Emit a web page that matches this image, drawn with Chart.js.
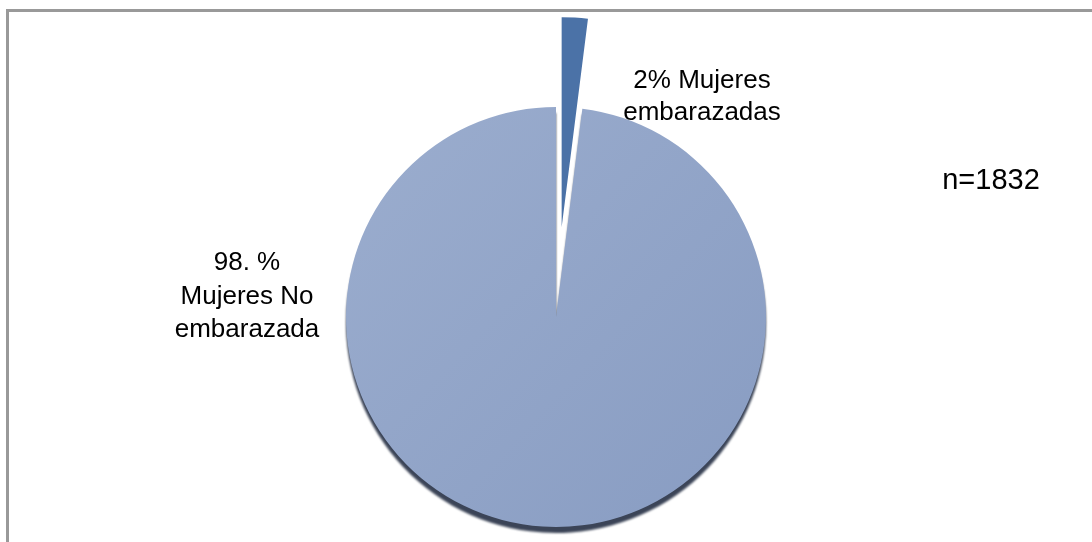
<!DOCTYPE html>
<html>
<head>
<meta charset="utf-8">
<script src="https://cdn.jsdelivr.net/npm/chart.js@4/dist/chart.umd.min.js"></script>
<style>
  html, body { margin: 0; padding: 0; background: #fff; }
  #wrap { position: relative; width: 1092px; height: 542px; }
  #frame {
    position: absolute; left: 6px; top: 9px; right: 0; bottom: 0;
    border-top: 3px solid #999; border-left: 3px solid #999;
    pointer-events: none;
  }
  canvas { position: absolute; left: 0; top: 0; }
</style>
</head>
<body>
<div id="wrap">
  <canvas id="pieChart" width="1092" height="542"></canvas>
  <div id="frame"></div>
</div>
<script>
// Data
const categories = ['Mujeres embarazadas', 'Mujeres No embarazada'];
const values = [2, 98];
const sliceLabels = [
    [values[0] + '% Mujeres', 'embarazadas'],
    [values[1] + '. %', 'Mujeres No', 'embarazada']
];
const sampleNote = 'n=1832';

const FONT = '26px "Liberation Sans", Arial, sans-serif';
const EXPLODE = 90; // px the small slice is pulled out

// Dark slice solid, light slice with a soft diagonal gradient
function sliceFill(context) {
    if (context.dataIndex === 0) return '#4b72a7';
    const g = context.chart.ctx.createLinearGradient(340, 120, 770, 520);
    g.addColorStop(0, '#9badce');
    g.addColorStop(1, '#889cc2');
    return g;
}

// Pull the first slice straight out along its mid angle, keeping its radius
const explodePlugin = {
    id: 'explode',
    afterDatasetUpdate(chart, args) {
        const arc = chart.getDatasetMeta(args.index).data[0];
        if (!arc) return;
        const mid = (arc.startAngle + arc.endAngle) / 2;
        arc.x += Math.cos(mid) * EXPLODE;
        arc.y += Math.sin(mid) * EXPLODE;
    }
};

// Dark rim under the pie to give it some depth
const rimPlugin = {
    id: 'rim',
    beforeDatasetsDraw(chart) {
        const arc = chart.getDatasetMeta(0).data[1];
        if (!arc) return;
        const ctx = chart.ctx;
        ctx.save();
        ctx.fillStyle = '#3b4457';
        ctx.filter = 'blur(1px)';
        ctx.beginPath();
        ctx.moveTo(arc.x, arc.y + 6);
        ctx.arc(arc.x, arc.y + 6, arc.outerRadius, arc.startAngle, arc.endAngle);
        ctx.closePath();
        ctx.fill();
        ctx.restore();
    }
};

// Slice labels and sample size
const labelPlugin = {
    id: 'sliceText',
    afterDatasetsDraw(chart) {
        const big = chart.getDatasetMeta(0).data[1];
        if (!big) return;
        const cx = big.x, cy = big.y;
        const ctx = chart.ctx;
        ctx.save();
        ctx.font = FONT;
        ctx.fillStyle = '#000';
        ctx.textAlign = 'center';
        ctx.textBaseline = 'middle';
        sliceLabels[0].forEach((t, i) => ctx.fillText(t, cx + 146, cy - 236 + i * 32));
        sliceLabels[1].forEach((t, i) => ctx.fillText(t, cx - 309, cy - 54 + i * 33.5));
        ctx.font = '29px "Liberation Sans", Arial, sans-serif';
        ctx.fillText(sampleNote, cx + 435, cy - 136);
        ctx.restore();
    }
};

const ctx = document.getElementById('pieChart').getContext('2d');
new Chart(ctx, {
    type: 'pie',
    data: {
        labels: categories,
        datasets: [{
            data: values,
            backgroundColor: sliceFill,
            borderWidth: 0,
            clip: false
        }]
    },
    options: {
        responsive: false,
        animation: false,
        radius: 210,
        layout: { padding: { left: 20, right: 0, top: 92, bottom: 0 } },
        plugins: {
            legend: { display: false },
            tooltip: { enabled: false }
        }
    },
    plugins: [explodePlugin, rimPlugin, labelPlugin]
});
</script>
</body>
</html>
